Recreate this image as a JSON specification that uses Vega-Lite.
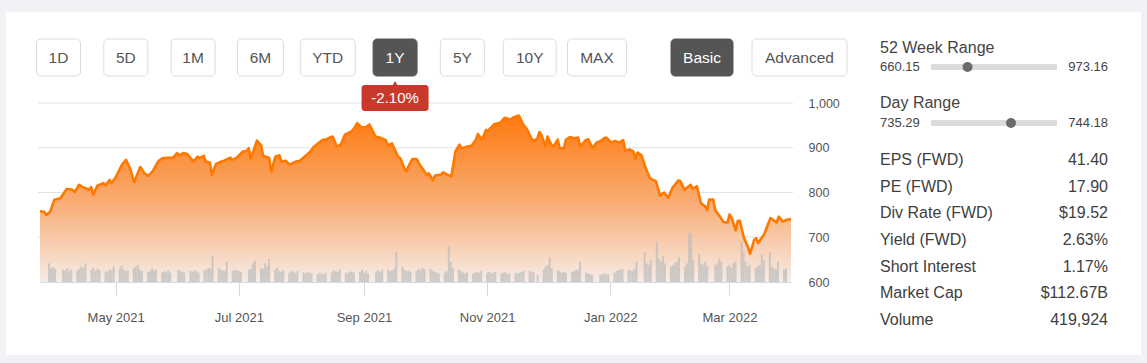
{
"$schema":"https://vega.github.io/schema/vega-lite/v6.json",
"width":1135,"height":343,
"autosize":{"type":"none"},
"padding":{"left":6,"top":12,"right":6,"bottom":8},
"background":"#f1f2f6",
"config":{"view":{"stroke":null,"fill":"#ffffff"},"font":"Liberation Sans","text":{"font":"Liberation Sans"}},
"datasets":{
"price":[{"d":"2021-03-27","p":758},{"d":"2021-03-29","p":757},{"d":"2021-03-30","p":750},{"d":"2021-04-01","p":757},{"d":"2021-04-03","p":784},{"d":"2021-04-06","p":787},{"d":"2021-04-09","p":808},{"d":"2021-04-12","p":806},{"d":"2021-04-13","p":801},{"d":"2021-04-15","p":817},{"d":"2021-04-17","p":812},{"d":"2021-04-20","p":806},{"d":"2021-04-21","p":812},{"d":"2021-04-22","p":795},{"d":"2021-04-24","p":815},{"d":"2021-04-27","p":821},{"d":"2021-04-28","p":816},{"d":"2021-04-30","p":828},{"d":"2021-05-01","p":821},{"d":"2021-05-03","p":834},{"d":"2021-05-06","p":862},{"d":"2021-05-08","p":873},{"d":"2021-05-10","p":854},{"d":"2021-05-12","p":823},{"d":"2021-05-15","p":857},{"d":"2021-05-17","p":843},{"d":"2021-05-19","p":837},{"d":"2021-05-21","p":847},{"d":"2021-05-24","p":871},{"d":"2021-05-26","p":877},{"d":"2021-05-31","p":878},{"d":"2021-06-02","p":888},{"d":"2021-06-03","p":883},{"d":"2021-06-05","p":888},{"d":"2021-06-07","p":886},{"d":"2021-06-10","p":869},{"d":"2021-06-12","p":880},{"d":"2021-06-13","p":877},{"d":"2021-06-15","p":882},{"d":"2021-06-16","p":869},{"d":"2021-06-18","p":867},{"d":"2021-06-19","p":839},{"d":"2021-06-21","p":864},{"d":"2021-06-23","p":868},{"d":"2021-06-25","p":871},{"d":"2021-06-28","p":878},{"d":"2021-06-29","p":873},{"d":"2021-07-01","p":877},{"d":"2021-07-04","p":891},{"d":"2021-07-06","p":893},{"d":"2021-07-07","p":899},{"d":"2021-07-08","p":875},{"d":"2021-07-11","p":916},{"d":"2021-07-13","p":906},{"d":"2021-07-14","p":882},{"d":"2021-07-17","p":877},{"d":"2021-07-18","p":847},{"d":"2021-07-20","p":880},{"d":"2021-07-22","p":883},{"d":"2021-07-23","p":869},{"d":"2021-07-25","p":871},{"d":"2021-07-27","p":862},{"d":"2021-07-30","p":869},{"d":"2021-08-01","p":871},{"d":"2021-08-04","p":883},{"d":"2021-08-06","p":891},{"d":"2021-08-08","p":903},{"d":"2021-08-12","p":917},{"d":"2021-08-14","p":919},{"d":"2021-08-17","p":925},{"d":"2021-08-19","p":903},{"d":"2021-08-21","p":907},{"d":"2021-08-23","p":929},{"d":"2021-08-26","p":936},{"d":"2021-08-27","p":940},{"d":"2021-08-29","p":955},{"d":"2021-08-31","p":946},{"d":"2021-09-02","p":945},{"d":"2021-09-04","p":952},{"d":"2021-09-07","p":925},{"d":"2021-09-09","p":923},{"d":"2021-09-12","p":917},{"d":"2021-09-13","p":905},{"d":"2021-09-15","p":910},{"d":"2021-09-18","p":880},{"d":"2021-09-19","p":877},{"d":"2021-09-21","p":854},{"d":"2021-09-22","p":847},{"d":"2021-09-23","p":858},{"d":"2021-09-25","p":875},{"d":"2021-09-27","p":875},{"d":"2021-09-29","p":859},{"d":"2021-09-30","p":853},{"d":"2021-10-02","p":839},{"d":"2021-10-03","p":843},{"d":"2021-10-05","p":827},{"d":"2021-10-06","p":838},{"d":"2021-10-09","p":840},{"d":"2021-10-10","p":845},{"d":"2021-10-12","p":840},{"d":"2021-10-14","p":836},{"d":"2021-10-16","p":892},{"d":"2021-10-18","p":907},{"d":"2021-10-19","p":899},{"d":"2021-10-22","p":903},{"d":"2021-10-24","p":905},{"d":"2021-10-26","p":918},{"d":"2021-10-27","p":931},{"d":"2021-10-29","p":918},{"d":"2021-10-31","p":940},{"d":"2021-11-01","p":938},{"d":"2021-11-04","p":953},{"d":"2021-11-07","p":956},{"d":"2021-11-09","p":967},{"d":"2021-11-12","p":963},{"d":"2021-11-13","p":967},{"d":"2021-11-16","p":972},{"d":"2021-11-18","p":953},{"d":"2021-11-20","p":941},{"d":"2021-11-22","p":922},{"d":"2021-11-23","p":915},{"d":"2021-11-25","p":920},{"d":"2021-11-26","p":935},{"d":"2021-11-27","p":929},{"d":"2021-11-29","p":903},{"d":"2021-11-30","p":925},{"d":"2021-12-02","p":906},{"d":"2021-12-03","p":903},{"d":"2021-12-05","p":918},{"d":"2021-12-06","p":899},{"d":"2021-12-08","p":899},{"d":"2021-12-09","p":918},{"d":"2021-12-11","p":924},{"d":"2021-12-13","p":921},{"d":"2021-12-15","p":923},{"d":"2021-12-16","p":903},{"d":"2021-12-19","p":918},{"d":"2021-12-20","p":919},{"d":"2021-12-22","p":899},{"d":"2021-12-24","p":912},{"d":"2021-12-26","p":915},{"d":"2021-12-28","p":922},{"d":"2021-12-29","p":922},{"d":"2021-12-31","p":912},{"d":"2022-01-02","p":915},{"d":"2022-01-04","p":912},{"d":"2022-01-06","p":917},{"d":"2022-01-07","p":894},{"d":"2022-01-09","p":896},{"d":"2022-01-11","p":892},{"d":"2022-01-12","p":875},{"d":"2022-01-13","p":889},{"d":"2022-01-15","p":883},{"d":"2022-01-17","p":854},{"d":"2022-01-19","p":832},{"d":"2022-01-21","p":827},{"d":"2022-01-22","p":825},{"d":"2022-01-24","p":793},{"d":"2022-01-26","p":800},{"d":"2022-01-28","p":788},{"d":"2022-01-30","p":810},{"d":"2022-02-02","p":827},{"d":"2022-02-03","p":825},{"d":"2022-02-05","p":806},{"d":"2022-02-06","p":810},{"d":"2022-02-08","p":817},{"d":"2022-02-09","p":808},{"d":"2022-02-11","p":814},{"d":"2022-02-13","p":776},{"d":"2022-02-15","p":769},{"d":"2022-02-16","p":761},{"d":"2022-02-17","p":784},{"d":"2022-02-19","p":784},{"d":"2022-02-20","p":760},{"d":"2022-02-22","p":748},{"d":"2022-02-24","p":734},{"d":"2022-02-26","p":733},{"d":"2022-02-27","p":751},{"d":"2022-02-28","p":743},{"d":"2022-03-02","p":715},{"d":"2022-03-03","p":737},{"d":"2022-03-04","p":737},{"d":"2022-03-06","p":698},{"d":"2022-03-08","p":678},{"d":"2022-03-09","p":663},{"d":"2022-03-11","p":694},{"d":"2022-03-12","p":698},{"d":"2022-03-13","p":687},{"d":"2022-03-16","p":708},{"d":"2022-03-18","p":732},{"d":"2022-03-19","p":743},{"d":"2022-03-22","p":733},{"d":"2022-03-23","p":746},{"d":"2022-03-25","p":735},{"d":"2022-03-27","p":739},{"d":"2022-03-29","p":741}],
"vol":[{"d":"2021-03-29","v":1.2},{"d":"2021-03-30","v":0.9},{"d":"2021-03-31","v":0.95},{"d":"2021-04-01","v":0.85},{"d":"2021-04-05","v":0.8},{"d":"2021-04-06","v":0.75},{"d":"2021-04-07","v":0.9},{"d":"2021-04-08","v":0.7},{"d":"2021-04-09","v":0.8},{"d":"2021-04-12","v":0.75},{"d":"2021-04-13","v":0.85},{"d":"2021-04-14","v":1.0},{"d":"2021-04-15","v":0.9},{"d":"2021-04-16","v":1.2},{"d":"2021-04-19","v":0.8},{"d":"2021-04-20","v":0.9},{"d":"2021-04-21","v":0.7},{"d":"2021-04-22","v":0.85},{"d":"2021-04-23","v":0.75},{"d":"2021-04-26","v":0.7},{"d":"2021-04-27","v":0.65},{"d":"2021-04-28","v":0.8},{"d":"2021-04-29","v":0.75},{"d":"2021-04-30","v":1.0},{"d":"2021-05-03","v":0.85},{"d":"2021-05-04","v":1.05},{"d":"2021-05-05","v":0.8},{"d":"2021-05-06","v":0.7},{"d":"2021-05-07","v":0.75},{"d":"2021-05-10","v":0.9},{"d":"2021-05-11","v":1.0},{"d":"2021-05-12","v":1.1},{"d":"2021-05-13","v":0.8},{"d":"2021-05-14","v":0.7},{"d":"2021-05-17","v":0.65},{"d":"2021-05-18","v":0.7},{"d":"2021-05-19","v":0.9},{"d":"2021-05-20","v":0.75},{"d":"2021-05-21","v":0.8},{"d":"2021-05-24","v":0.6},{"d":"2021-05-25","v":0.7},{"d":"2021-05-26","v":0.65},{"d":"2021-05-27","v":0.75},{"d":"2021-05-28","v":0.6},{"d":"2021-06-01","v":0.8},{"d":"2021-06-02","v":0.7},{"d":"2021-06-03","v":0.65},{"d":"2021-06-04","v":0.6},{"d":"2021-06-07","v":0.7},{"d":"2021-06-08","v":0.65},{"d":"2021-06-09","v":0.75},{"d":"2021-06-10","v":0.7},{"d":"2021-06-11","v":0.6},{"d":"2021-06-14","v":0.75},{"d":"2021-06-15","v":0.8},{"d":"2021-06-16","v":0.9},{"d":"2021-06-17","v":0.85},{"d":"2021-06-18","v":1.7},{"d":"2021-06-21","v":0.9},{"d":"2021-06-22","v":0.8},{"d":"2021-06-23","v":0.75},{"d":"2021-06-24","v":0.7},{"d":"2021-06-25","v":1.3},{"d":"2021-06-28","v":0.7},{"d":"2021-06-29","v":0.8},{"d":"2021-06-30","v":0.75},{"d":"2021-07-01","v":0.7},{"d":"2021-07-02","v":0.65},{"d":"2021-07-06","v":0.8},{"d":"2021-07-07","v":0.85},{"d":"2021-07-08","v":1.2},{"d":"2021-07-09","v":1.4},{"d":"2021-07-12","v":0.9},{"d":"2021-07-13","v":0.85},{"d":"2021-07-14","v":1.2},{"d":"2021-07-15","v":1.0},{"d":"2021-07-16","v":1.5},{"d":"2021-07-19","v":0.8},{"d":"2021-07-20","v":0.9},{"d":"2021-07-21","v":0.7},{"d":"2021-07-22","v":0.65},{"d":"2021-07-23","v":0.75},{"d":"2021-07-26","v":0.6},{"d":"2021-07-27","v":0.7},{"d":"2021-07-28","v":0.65},{"d":"2021-07-29","v":0.6},{"d":"2021-07-30","v":0.7},{"d":"2021-08-02","v":0.6},{"d":"2021-08-03","v":0.55},{"d":"2021-08-04","v":0.65},{"d":"2021-08-05","v":0.6},{"d":"2021-08-06","v":0.55},{"d":"2021-08-09","v":0.5},{"d":"2021-08-10","v":0.6},{"d":"2021-08-11","v":0.55},{"d":"2021-08-12","v":0.5},{"d":"2021-08-13","v":0.6},{"d":"2021-08-16","v":0.6},{"d":"2021-08-17","v":0.75},{"d":"2021-08-18","v":0.7},{"d":"2021-08-19","v":0.65},{"d":"2021-08-20","v":0.8},{"d":"2021-08-23","v":0.6},{"d":"2021-08-24","v":0.55},{"d":"2021-08-25","v":0.65},{"d":"2021-08-26","v":0.7},{"d":"2021-08-27","v":0.6},{"d":"2021-08-30","v":0.65},{"d":"2021-08-31","v":0.8},{"d":"2021-09-01","v":0.6},{"d":"2021-09-02","v":0.7},{"d":"2021-09-03","v":0.55},{"d":"2021-09-07","v":0.7},{"d":"2021-09-08","v":0.75},{"d":"2021-09-09","v":0.65},{"d":"2021-09-10","v":0.8},{"d":"2021-09-13","v":0.8},{"d":"2021-09-14","v":0.7},{"d":"2021-09-15","v":0.75},{"d":"2021-09-16","v":0.9},{"d":"2021-09-17","v":1.95},{"d":"2021-09-20","v":1.0},{"d":"2021-09-21","v":0.8},{"d":"2021-09-22","v":0.7},{"d":"2021-09-23","v":0.75},{"d":"2021-09-24","v":0.65},{"d":"2021-09-27","v":0.7},{"d":"2021-09-28","v":0.85},{"d":"2021-09-29","v":0.75},{"d":"2021-09-30","v":0.9},{"d":"2021-10-01","v":0.8},{"d":"2021-10-04","v":0.85},{"d":"2021-10-05","v":0.7},{"d":"2021-10-06","v":0.65},{"d":"2021-10-07","v":0.6},{"d":"2021-10-08","v":0.55},{"d":"2021-10-11","v":0.6},{"d":"2021-10-12","v":0.7},{"d":"2021-10-13","v":2.3},{"d":"2021-10-14","v":1.3},{"d":"2021-10-15","v":0.9},{"d":"2021-10-18","v":0.8},{"d":"2021-10-19","v":0.7},{"d":"2021-10-20","v":0.6},{"d":"2021-10-21","v":0.55},{"d":"2021-10-22","v":0.6},{"d":"2021-10-25","v":0.55},{"d":"2021-10-26","v":0.6},{"d":"2021-10-27","v":0.65},{"d":"2021-10-28","v":0.6},{"d":"2021-10-29","v":0.7},{"d":"2021-11-01","v":0.6},{"d":"2021-11-02","v":0.65},{"d":"2021-11-03","v":0.55},{"d":"2021-11-04","v":0.6},{"d":"2021-11-05","v":0.65},{"d":"2021-11-08","v":0.55},{"d":"2021-11-09","v":0.6},{"d":"2021-11-10","v":0.65},{"d":"2021-11-11","v":0.5},{"d":"2021-11-12","v":0.55},{"d":"2021-11-15","v":0.6},{"d":"2021-11-16","v":0.55},{"d":"2021-11-17","v":0.6},{"d":"2021-11-18","v":0.65},{"d":"2021-11-19","v":0.7},{"d":"2021-11-22","v":0.7},{"d":"2021-11-23","v":0.65},{"d":"2021-11-24","v":0.6},{"d":"2021-11-26","v":0.45},{"d":"2021-11-29","v":0.8},{"d":"2021-11-30","v":1.0},{"d":"2021-12-01","v":1.1},{"d":"2021-12-02","v":1.6},{"d":"2021-12-03","v":0.9},{"d":"2021-12-06","v":0.75},{"d":"2021-12-07","v":0.7},{"d":"2021-12-08","v":0.6},{"d":"2021-12-09","v":0.65},{"d":"2021-12-10","v":0.6},{"d":"2021-12-13","v":0.65},{"d":"2021-12-14","v":0.7},{"d":"2021-12-15","v":0.75},{"d":"2021-12-16","v":0.8},{"d":"2021-12-17","v":1.3},{"d":"2021-12-20","v":0.6},{"d":"2021-12-21","v":0.55},{"d":"2021-12-22","v":0.5},{"d":"2021-12-23","v":0.45},{"d":"2021-12-27","v":0.45},{"d":"2021-12-28","v":0.5},{"d":"2021-12-29","v":0.55},{"d":"2021-12-30","v":0.5},{"d":"2021-12-31","v":0.5},{"d":"2022-01-03","v":0.6},{"d":"2022-01-04","v":0.7},{"d":"2022-01-05","v":0.75},{"d":"2022-01-06","v":0.8},{"d":"2022-01-07","v":0.85},{"d":"2022-01-10","v":0.8},{"d":"2022-01-11","v":0.75},{"d":"2022-01-12","v":0.7},{"d":"2022-01-13","v":0.85},{"d":"2022-01-14","v":1.3},{"d":"2022-01-18","v":1.9},{"d":"2022-01-19","v":1.2},{"d":"2022-01-20","v":1.1},{"d":"2022-01-21","v":1.4},{"d":"2022-01-24","v":2.6},{"d":"2022-01-25","v":1.5},{"d":"2022-01-26","v":1.3},{"d":"2022-01-27","v":1.7},{"d":"2022-01-28","v":1.2},{"d":"2022-01-31","v":1.0},{"d":"2022-02-01","v":1.1},{"d":"2022-02-02","v":1.2},{"d":"2022-02-03","v":1.3},{"d":"2022-02-04","v":1.6},{"d":"2022-02-07","v":1.0},{"d":"2022-02-08","v":1.2},{"d":"2022-02-09","v":3.2},{"d":"2022-02-10","v":3.1},{"d":"2022-02-11","v":1.4},{"d":"2022-02-14","v":1.8},{"d":"2022-02-15","v":1.2},{"d":"2022-02-16","v":1.1},{"d":"2022-02-17","v":1.3},{"d":"2022-02-18","v":1.0},{"d":"2022-02-22","v":1.1},{"d":"2022-02-23","v":1.2},{"d":"2022-02-24","v":1.5},{"d":"2022-02-25","v":1.3},{"d":"2022-02-28","v":1.0},{"d":"2022-03-01","v":1.1},{"d":"2022-03-02","v":0.9},{"d":"2022-03-03","v":1.2},{"d":"2022-03-04","v":1.3},{"d":"2022-03-07","v":2.6},{"d":"2022-03-08","v":1.9},{"d":"2022-03-09","v":1.3},{"d":"2022-03-10","v":1.0},{"d":"2022-03-11","v":1.1},{"d":"2022-03-14","v":0.9},{"d":"2022-03-15","v":1.0},{"d":"2022-03-16","v":1.1},{"d":"2022-03-17","v":1.8},{"d":"2022-03-18","v":1.4},{"d":"2022-03-21","v":1.9},{"d":"2022-03-22","v":1.0},{"d":"2022-03-23","v":0.9},{"d":"2022-03-24","v":0.8},{"d":"2022-03-25","v":1.3},{"d":"2022-03-28","v":0.8},{"d":"2022-03-29","v":0.9}],
"btn":[{"b":"1D","g":"A"},{"b":"5D","g":"A"},{"b":"1M","g":"A"},{"b":"6M","g":"A"},{"b":"YTD","g":"A"},{"b":"1Y","g":"A","on":true},{"b":"5Y","g":"A"},{"b":"10Y","g":"A"},{"b":"MAX","g":"A"},{"b":"Basic","g":"B","on":true},{"b":"Advanced","g":"B"}],
"tip":[{"b":"1Y","t":"-2.10%"}],
"ranges":[{"k":"52 Week Range","lo":"660.15","hi":"973.16","pos":0.29},{"k":"Day Range","lo":"735.29","hi":"744.18","pos":0.635}],
"stats":[{"k":"EPS (FWD)","v":"41.40"},{"k":"PE (FWD)","v":"17.90"},{"k":"Div Rate (FWD)","v":"$19.52"},{"k":"Yield (FWD)","v":"2.63%"},{"k":"Short Interest","v":"1.17%"},{"k":"Market Cap","v":"$112.67B"},{"k":"Volume","v":"419,924"}]
},
"resolve":{"scale":{"x":"independent","y":"independent","size":"independent"},"axis":{"x":"independent","y":"independent"}},
"layer":[
{"data":{"values":[{"g":700},{"g":800},{"g":900},{"g":1000}]},
 "mark":{"type":"rule","color":"#e2e2e2","strokeWidth":1},
 "encoding":{
  "x":{"datum":{"year":2021,"month":3,"date":26,"utc":true},"type":"temporal","scale":{"type":"utc","nice":false,"domain":[{"year":2021,"month":3,"date":27,"utc":true},{"year":2022,"month":3,"date":29,"utc":true}],"range":[34,785]},"axis":null},
  "x2":{"datum":{"year":2022,"month":3,"date":30,"utc":true}},
  "y":{"field":"g","type":"quantitative","scale":{"domain":[600,1000],"range":[270,91],"nice":false,"zero":false},"axis":null}}},
{"data":{"name":"price"},
 "mark":{"type":"area","color":{"gradient":"linear","x1":0,"y1":0,"x2":0,"y2":1,"stops":[{"offset":0,"color":"#ff7a0e"},{"offset":0.5,"color":"#f8aa6f"},{"offset":1,"color":"#f6ece7"}]}},
 "encoding":{
  "x":{"field":"d","type":"temporal","scale":{"type":"utc","nice":false,"domain":[{"year":2021,"month":3,"date":27,"utc":true},{"year":2022,"month":3,"date":29,"utc":true}],"range":[34,785]},"axis":null},
  "y":{"field":"p","type":"quantitative","scale":{"domain":[600,1000],"range":[270,91],"nice":false,"zero":false},"axis":null},
  "y2":{"datum":600}}},
{"data":{"name":"vol"},
 "mark":{"type":"bar","width":2,"color":"#bdbdbd","opacity":0.72},
 "encoding":{
  "x":{"field":"d","type":"temporal","scale":{"type":"utc","nice":false,"domain":[{"year":2021,"month":3,"date":27,"utc":true},{"year":2022,"month":3,"date":29,"utc":true}],"range":[34,785]},
   "axis":{"orient":"bottom","offset":-73,"title":null,"grid":false,
    "values":[{"year":2021,"month":5,"date":1,"utc":true},{"year":2021,"month":7,"date":1,"utc":true},{"year":2021,"month":9,"date":1,"utc":true},{"year":2021,"month":11,"date":1,"utc":true},{"year":2022,"month":1,"date":1,"utc":true},{"year":2022,"month":3,"date":1,"utc":true}],
    "labelExpr":"utcFormat(datum.value, '%b %Y')","domainColor":"#d9d9d9","tickColor":"#d9d9d9","tickSize":13,"labelPadding":16,"labelFontSize":13,"labelColor":"#555555","labelFont":"Liberation Sans","labelFlush":false}},
  "y":{"field":"v","type":"quantitative","scale":{"domain":[0,2.9],"range":[270,225],"nice":false},"axis":null}}},
{"data":{"name":"price"},
 "mark":{"type":"line","color":"#ff7800","strokeWidth":2.6,"strokeJoin":"round"},
 "encoding":{
  "x":{"field":"d","type":"temporal","scale":{"type":"utc","nice":false,"domain":[{"year":2021,"month":3,"date":27,"utc":true},{"year":2022,"month":3,"date":29,"utc":true}],"range":[34,785]},"axis":null},
  "y":{"field":"p","type":"quantitative","scale":{"domain":[600,1000],"range":[270,91],"nice":false,"zero":false},
   "axis":{"orient":"right","offset":-345,"title":null,"values":[600,700,800,900,1000],"labelExpr":"format(datum.value, ',')","domain":false,"ticks":false,"grid":false,"labelPadding":12,"labelFontSize":12.5,"labelColor":"#555555","labelFont":"Liberation Sans"}}}},
{"data":{"name":"btn"},"transform":[{"filter":"datum.g==='A'"}],
 "mark":{"type":"bar","cornerRadius":4,"strokeWidth":1},
 "encoding":{
  "x":{"field":"b","type":"nominal","scale":{"type":"point","domain":["1D","5D","1M","6M","YTD","1Y","5Y","10Y","MAX"],"range":[52.5,591],"padding":0},"axis":null},
  "y":{"datum":0,"type":"quantitative","scale":{"domain":[0,1],"range":[64,27],"nice":false,"zero":false},"axis":null},
  "y2":{"datum":1},
  "size":{"condition":[{"test":"datum.b==='YTD'","value":55},{"test":"datum.b==='10Y'","value":53},{"test":"datum.b==='MAX'","value":59},{"test":"datum.b==='6M'","value":46}],"value":44},
  "color":{"condition":{"test":"datum.on","value":"#555555"},"value":"#ffffff"},
  "stroke":{"condition":{"test":"datum.on","value":"#555555"},"value":"#dcdcdc"}}},
{"data":{"name":"btn"},"transform":[{"filter":"datum.g==='A'"}],
 "mark":{"type":"text","fontSize":15.5,"align":"center","baseline":"middle"},
 "encoding":{
  "x":{"field":"b","type":"nominal","scale":{"type":"point","domain":["1D","5D","1M","6M","YTD","1Y","5Y","10Y","MAX"],"range":[52.5,591],"padding":0},"axis":null},
  "y":{"datum":0.5,"type":"quantitative","scale":{"domain":[0,1],"range":[64,27],"nice":false,"zero":false},"axis":null},
  "text":{"field":"b"},
  "color":{"condition":{"test":"datum.on","value":"#ffffff"},"value":"#555555"}}},
{"data":{"name":"btn"},"transform":[{"filter":"datum.g==='B'"}],
 "mark":{"type":"bar","cornerRadius":4,"strokeWidth":1},
 "encoding":{
  "x":{"field":"b","type":"nominal","scale":{"type":"point","domain":["Basic","Advanced"],"range":[696,793.5],"padding":0},"axis":null},
  "y":{"datum":0,"type":"quantitative","scale":{"domain":[0,1],"range":[64,27],"nice":false,"zero":false},"axis":null},
  "y2":{"datum":1},
  "size":{"condition":{"test":"datum.b==='Advanced'","value":95},"value":62},
  "color":{"condition":{"test":"datum.on","value":"#555555"},"value":"#ffffff"},
  "stroke":{"condition":{"test":"datum.on","value":"#555555"},"value":"#dcdcdc"}}},
{"data":{"name":"btn"},"transform":[{"filter":"datum.g==='B'"}],
 "mark":{"type":"text","fontSize":15.5,"align":"center","baseline":"middle"},
 "encoding":{
  "x":{"field":"b","type":"nominal","scale":{"type":"point","domain":["Basic","Advanced"],"range":[696,793.5],"padding":0},"axis":null},
  "y":{"datum":0.5,"type":"quantitative","scale":{"domain":[0,1],"range":[64,27],"nice":false,"zero":false},"axis":null},
  "text":{"field":"b"},
  "color":{"condition":{"test":"datum.on","value":"#ffffff"},"value":"#555555"}}},
{"data":{"name":"tip"},
 "mark":{"type":"point","shape":"triangle-up","filled":true,"size":90,"color":"#c9392b","opacity":1},
 "encoding":{
  "x":{"field":"b","type":"nominal","scale":{"type":"point","domain":["1D","5D","1M","6M","YTD","1Y","5Y","10Y","MAX"],"range":[52.5,591],"padding":0},"axis":null},
  "y":{"datum":1,"type":"quantitative","scale":{"domain":[0,1],"range":[99,73],"nice":false,"zero":false},"axis":null}}},
{"data":{"name":"tip"},
 "mark":{"type":"bar","cornerRadius":3,"color":"#c9392b"},
 "encoding":{
  "x":{"field":"b","type":"nominal","scale":{"type":"point","domain":["1D","5D","1M","6M","YTD","1Y","5Y","10Y","MAX"],"range":[52.5,591],"padding":0},"axis":null},
  "y":{"datum":0,"type":"quantitative","scale":{"domain":[0,1],"range":[99,73],"nice":false,"zero":false},"axis":null},
  "y2":{"datum":1},
  "size":{"value":67}}},
{"data":{"name":"tip"},
 "mark":{"type":"text","fontSize":15,"align":"center","baseline":"middle","color":"#ffffff"},
 "encoding":{
  "x":{"field":"b","type":"nominal","scale":{"type":"point","domain":["1D","5D","1M","6M","YTD","1Y","5Y","10Y","MAX"],"range":[52.5,591],"padding":0},"axis":null},
  "y":{"datum":0.5,"type":"quantitative","scale":{"domain":[0,1],"range":[99,73],"nice":false,"zero":false},"axis":null},
  "text":{"field":"t"}}},
{"data":{"name":"ranges"},
 "mark":{"type":"text","fontSize":16,"align":"left","baseline":"middle","color":"#444444"},
 "encoding":{
  "x":{"datum":0,"type":"quantitative","scale":{"domain":[0,1],"range":[874,1102],"nice":false,"zero":false},"axis":null},
  "y":{"field":"k","type":"nominal","scale":{"type":"point","domain":["52 Week Range","Day Range"],"range":[36,91],"padding":0},"axis":null},
  "text":{"field":"k"}}},
{"data":{"name":"ranges"},
 "mark":{"type":"text","fontSize":13,"align":"left","baseline":"middle","color":"#444444"},
 "encoding":{
  "x":{"datum":0,"type":"quantitative","scale":{"domain":[0,1],"range":[874,1102],"nice":false,"zero":false},"axis":null},
  "y":{"field":"k","type":"nominal","scale":{"type":"point","domain":["52 Week Range","Day Range"],"range":[55,111],"padding":0},"axis":null},
  "text":{"field":"lo"}}},
{"data":{"name":"ranges"},
 "mark":{"type":"text","fontSize":13,"align":"right","baseline":"middle","color":"#444444"},
 "encoding":{
  "x":{"datum":1,"type":"quantitative","scale":{"domain":[0,1],"range":[874,1102],"nice":false,"zero":false},"axis":null},
  "y":{"field":"k","type":"nominal","scale":{"type":"point","domain":["52 Week Range","Day Range"],"range":[55,111],"padding":0},"axis":null},
  "text":{"field":"hi"}}},
{"data":{"name":"ranges"},
 "mark":{"type":"rule","color":"#dcdcdc","strokeWidth":6},
 "encoding":{
  "x":{"datum":0,"type":"quantitative","scale":{"domain":[0,1],"range":[925,1051],"nice":false,"zero":false},"axis":null},
  "x2":{"datum":1},
  "y":{"field":"k","type":"nominal","scale":{"type":"point","domain":["52 Week Range","Day Range"],"range":[55,111],"padding":0},"axis":null}}},
{"data":{"name":"ranges"},
 "mark":{"type":"point","filled":true,"shape":"circle","size":100,"color":"#6b6b6b","opacity":1},
 "encoding":{
  "x":{"field":"pos","type":"quantitative","scale":{"domain":[0,1],"range":[925,1051],"nice":false,"zero":false},"axis":null},
  "y":{"field":"k","type":"nominal","scale":{"type":"point","domain":["52 Week Range","Day Range"],"range":[55,111],"padding":0},"axis":null}}},
{"data":{"name":"stats"},
 "mark":{"type":"text","fontSize":16,"align":"left","baseline":"middle","color":"#404040"},
 "encoding":{
  "x":{"datum":0,"type":"quantitative","scale":{"domain":[0,1],"range":[874,1102],"nice":false,"zero":false},"axis":null},
  "y":{"field":"k","type":"nominal","scale":{"type":"point","domain":["EPS (FWD)","PE (FWD)","Div Rate (FWD)","Yield (FWD)","Short Interest","Market Cap","Volume"],"range":[148,308],"padding":0},"axis":null},
  "text":{"field":"k"}}},
{"data":{"name":"stats"},
 "mark":{"type":"text","fontSize":16,"align":"right","baseline":"middle","color":"#404040"},
 "encoding":{
  "x":{"datum":1,"type":"quantitative","scale":{"domain":[0,1],"range":[874,1102],"nice":false,"zero":false},"axis":null},
  "y":{"field":"k","type":"nominal","scale":{"type":"point","domain":["EPS (FWD)","PE (FWD)","Div Rate (FWD)","Yield (FWD)","Short Interest","Market Cap","Volume"],"range":[148,308],"padding":0},"axis":null},
  "text":{"field":"v"}}}
]
}
